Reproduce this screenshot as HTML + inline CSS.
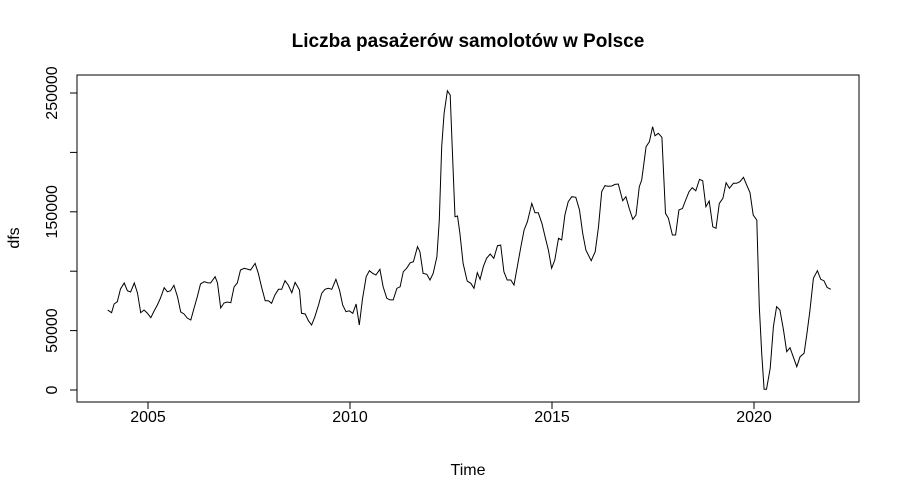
<!DOCTYPE html>
<html><head><meta charset="utf-8"><style>
html,body{margin:0;padding:0;background:#fff;}
svg{display:block;font-family:"Liberation Sans",Arial,sans-serif;}
</style></head><body>
<svg id="chart" width="900" height="500" viewBox="0 0 900 500" xmlns="http://www.w3.org/2000/svg">
<rect width="900" height="500" fill="#fff"/>
<text x="468" y="47" text-anchor="middle" font-size="19" font-weight="bold">Liczba pasażerów samolotów w Polsce</text>
<rect x="77" y="75" width="782" height="327" fill="none" stroke="#000" stroke-width="1"/>
<text x="468" y="475" text-anchor="middle" font-size="16">Time</text>
<text transform="translate(19,238) rotate(-90)" text-anchor="middle" font-size="16">dfs</text>
<g id="axes"></g>
<path id="series" fill="none" stroke="#000" stroke-width="1"/>
</svg>
<script>
const times = [2004.00,2004.10,2004.16,2004.24,2004.32,2004.41,2004.49,2004.57,2004.66,2004.74,2004.82,2004.90,
2004.98,2005.07,2005.15,2005.23,2005.31,2005.40,2005.48,2005.56,2005.64,2005.73,2005.81,2005.89,
2005.97,2006.06,2006.14,2006.22,2006.30,2006.39,2006.47,2006.55,2006.66,2006.72,2006.80,2006.88,
2006.96,2007.05,2007.13,2007.21,2007.29,2007.38,2007.46,2007.54,2007.65,2007.73,2007.81,2007.90,
2007.98,2008.06,2008.14,2008.23,2008.31,2008.39,2008.47,2008.56,2008.64,2008.75,2008.80,2008.89,
2008.97,2009.05,2009.13,2009.22,2009.30,2009.38,2009.46,2009.55,2009.65,2009.74,2009.82,2009.90,
2009.98,2010.07,2010.15,2010.23,2010.31,2010.40,2010.48,2010.56,2010.64,2010.74,2010.82,2010.91,
2010.99,2011.07,2011.16,2011.24,2011.32,2011.40,2011.49,2011.57,2011.67,2011.73,2011.81,2011.90,
2011.98,2012.06,2012.15,2012.21,2012.27,2012.33,2012.41,2012.48,2012.53,2012.60,2012.66,2012.72,2012.80,2012.90,
2012.99,2013.07,2013.15,2013.22,2013.30,2013.38,2013.47,2013.56,2013.65,2013.73,2013.81,2013.89,
2013.98,2014.06,2014.14,2014.23,2014.31,2014.39,2014.50,2014.58,2014.66,2014.75,2014.83,2014.91,
2014.99,2015.07,2015.16,2015.24,2015.32,2015.40,2015.49,2015.59,2015.68,2015.76,2015.84,2015.97,
2016.07,2016.15,2016.23,2016.31,2016.39,2016.48,2016.56,2016.64,2016.75,2016.83,2016.91,
2017.00,2017.08,2017.16,2017.22,2017.33,2017.41,2017.49,2017.55,2017.63,2017.72,2017.81,2017.88,
2017.98,2018.06,2018.14,2018.23,2018.31,2018.39,2018.47,2018.56,2018.65,2018.73,2018.81,2018.89,
2018.98,2019.06,2019.14,2019.23,2019.31,2019.39,2019.49,2019.57,2019.65,2019.74,2019.82,2019.90,
2019.98,2020.07,2020.13,2020.19,2020.25,2020.31,2020.40,2020.48,2020.56,2020.64,2020.73,2020.81,2020.89,
2020.97,2021.06,2021.14,2021.24,2021.30,2021.38,2021.47,2021.57,2021.65,2021.73,2021.81,2021.90];
const values = [67300,65100,72400,74300,85000,90100,83600,82500,90100,81600,65100,67300,
64800,60900,66500,71500,77400,86100,82700,83600,88100,78500,65700,64000,
60600,58900,69000,78500,89200,91200,90300,90100,95400,90100,69000,73200,
74100,73500,86900,90100,101000,102400,101800,101000,106600,98200,86900,75200,
75200,73000,80000,84800,84800,92000,88400,81900,90600,84200,64600,64000,
58300,54700,61700,71500,81400,84800,85600,84800,93200,84200,71500,65900,
66700,64600,72400,54700,76800,95400,100400,98200,96800,101600,87000,77200,
75800,75800,85600,86900,99600,102400,107100,108000,120600,116400,98200,97400,
92600,98200,112200,143100,204800,232900,251900,248300,204800,145900,146500,131900,106600,91700,
89800,85600,98700,93200,103800,110900,114500,110900,121500,122000,99600,92600,
92600,88400,103800,120600,134700,141700,157100,149200,149200,140300,129000,117800,
102400,109400,127700,126300,147300,158500,162700,162200,151500,131900,117800,108800,
116400,137400,166900,172000,171500,171700,173100,173400,159300,162700,152900,
143700,147300,171100,176800,204800,209000,221600,214000,216100,212700,148700,144500,
130500,130500,151500,152900,159900,166900,170300,167700,177300,176200,154300,159100,
137400,136100,157100,161400,174500,169800,174000,174000,175300,179000,172500,166100,
147300,143100,70100,30900,600,600,18300,53300,70100,67300,50500,32200,35600,
28000,19600,28000,30900,44900,65900,94000,100400,93200,92000,86400,84800];
const xTicks = [2005,2010,2015,2020];
const yTicks = [0,50000,150000,250000];
const yMinorTicks = [100000,200000];

const NS = "http://www.w3.org/2000/svg";
function xScale(t){ return 148 + (t - 2005) * 40.4; }
function yScale(v){ return 390 - v * 0.001188; }
const axes = document.getElementById('axes');
function mk(tag, attrs){ const e = document.createElementNS(NS, tag); for (const k in attrs) e.setAttribute(k, attrs[k]); axes.appendChild(e); return e; }

const xAxisLine = mk('line',{x1:xScale(xTicks[0]),x2:xScale(xTicks[xTicks.length-1]),y1:402,y2:402,stroke:'#000'});


xTicks.forEach(t => {
  const l = mk('line',{x1:xScale(t),x2:xScale(t),y1:402,y2:409,stroke:'#000'});
  
  
  const tx = mk('text',{x:xScale(t),y:422,'text-anchor':'middle','font-size':'16'});
  tx.textContent = t;
  
  
});
const allY = yTicks.concat(yMinorTicks);
const yAxisLine = mk('line',{x1:77,x2:77,y1:yScale(0),y2:yScale(250000),stroke:'#000'});


allY.forEach(v => {
  const l = mk('line',{x1:70,x2:77,y1:yScale(v),y2:yScale(v),stroke:'#000'});
  
  
});
yTicks.forEach(v => {
  const tx = mk('text',{transform:`translate(57,${yScale(v)}) rotate(-90)`,'text-anchor':'middle','font-size':'16'});
  tx.textContent = v;
  
  
});

let d = '';
times.forEach((t,i) => { d += (i ? 'L' : 'M') + xScale(t).toFixed(1) + ',' + yScale(values[i]).toFixed(1); });
document.getElementById('series').setAttribute('d', d);
</script>
</body></html>
